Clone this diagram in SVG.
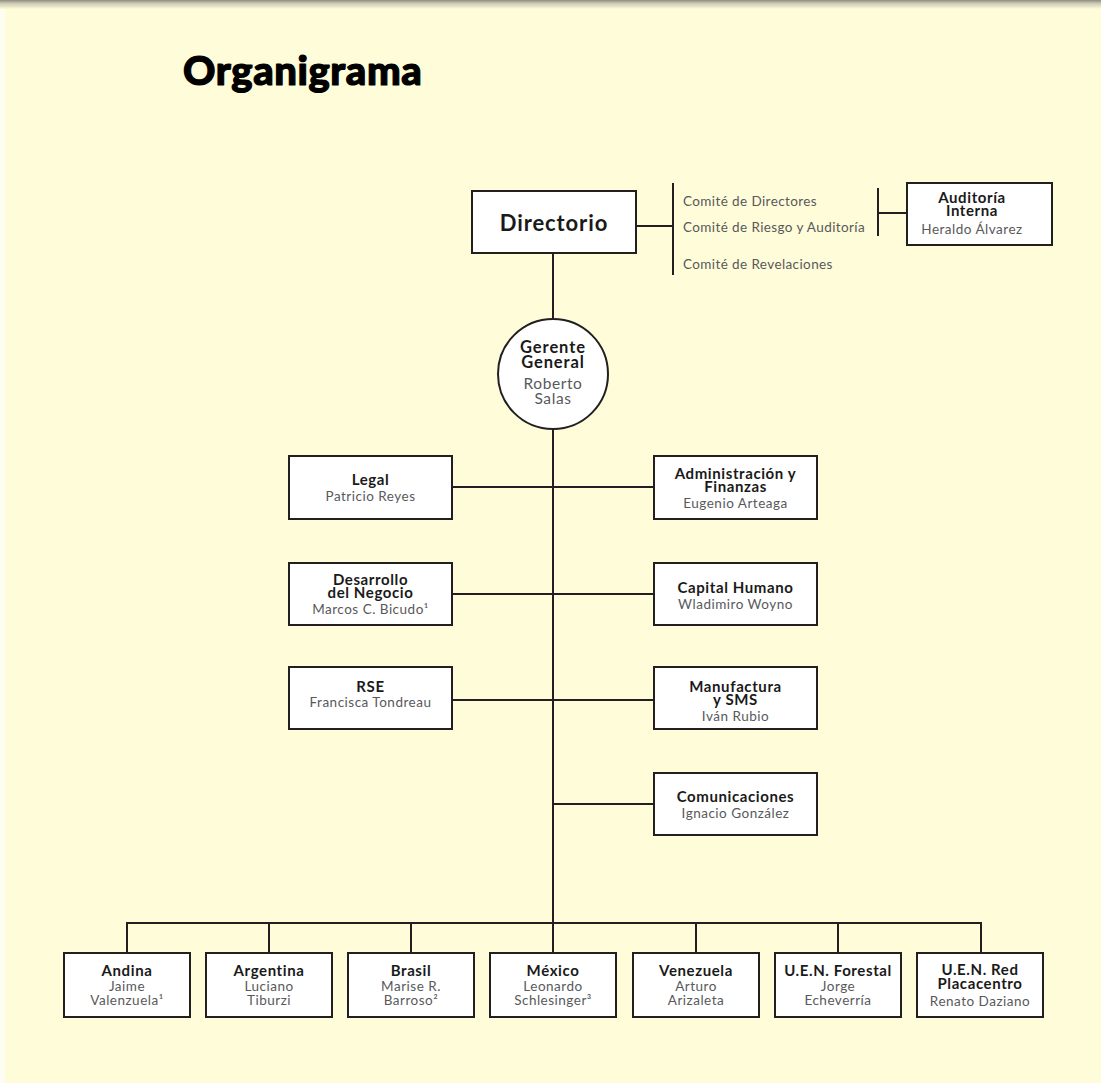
<svg xmlns="http://www.w3.org/2000/svg" width="1101" height="1083" viewBox="0 0 1101 1083">
  <defs>
    <linearGradient id="topShade" x1="0" y1="0" x2="0" y2="1">
      <stop offset="0" stop-color="#8c8b82"/>
      <stop offset="0.35" stop-color="#c9c7b0"/>
      <stop offset="1" stop-color="#fffcd9"/>
    </linearGradient>
    <style>
      .box { fill: #ffffff; stroke: #231f20; stroke-width: 2; }
      .wire { stroke: #231f20; stroke-width: 2; fill: none; }
      .t { font-family: Lato, "Liberation Sans", sans-serif; font-weight: 700; fill: #1a1a1a; text-anchor: middle; }
      .n { font-family: Lato, "Liberation Sans", sans-serif; font-weight: 400; fill: #58595b; text-anchor: middle; }
      .c { font-family: Lato, "Liberation Sans", sans-serif; font-weight: 400; fill: #58595b; font-size: 13.5px; letter-spacing: 0.4px; }
      .mid .t, .bot .t, .aud .t { font-size: 15px; letter-spacing: 0.6px; }
      .mid .n, .bot .n, .aud .n { font-size: 13.5px; letter-spacing: 0.5px; }
    </style>
  </defs>

  <!-- page -->
  <rect x="0" y="0" width="1101" height="1083" fill="#fdfdf4"/>
  <rect x="5" y="0" width="1096" height="1083" fill="#fffcd9"/>
  <rect x="0" y="0" width="1101" height="9" fill="url(#topShade)"/>

  <text x="183" y="85" font-family="Lato, 'Liberation Sans', sans-serif" font-weight="900" font-size="40" letter-spacing="0.6" fill="#000" stroke="#000" stroke-width="1.2" stroke-linejoin="round">Organigrama</text>

  <!-- connectors -->
  <g id="connectors" class="wire">
    <line x1="636" y1="226" x2="673" y2="226"/>
    <line x1="673" y1="183" x2="673" y2="275"/>
    <line x1="878" y1="188" x2="878" y2="236"/>
    <line x1="878" y1="213" x2="907" y2="213"/>
    <line x1="553" y1="253" x2="553" y2="319"/>
    <line x1="553" y1="429" x2="553" y2="923"/>
    <line x1="452" y1="487" x2="654" y2="487"/>
    <line x1="452" y1="594" x2="654" y2="594"/>
    <line x1="452" y1="700" x2="654" y2="700"/>
    <line x1="553" y1="804" x2="654" y2="804"/>
    <polyline points="127,953 127,923 981,923 981,953"/>
    <line x1="269" y1="923" x2="269" y2="953"/>
    <line x1="411" y1="923" x2="411" y2="953"/>
    <line x1="553" y1="923" x2="553" y2="953"/>
    <line x1="696" y1="923" x2="696" y2="953"/>
    <line x1="838" y1="923" x2="838" y2="953"/>
  </g>

  <!-- board and committees -->
  <g id="directorio">
    <rect class="box" x="472" y="191" width="164" height="62"/>
    <text class="t" x="554" y="231" font-size="22" letter-spacing="0.9">Directorio</text>
  </g>
  <g id="comites">
    <text class="c" x="683" y="206">Comité de Directores</text>
    <text class="c" x="683" y="232">Comité de Riesgo y Auditoría</text>
    <text class="c" x="683" y="269">Comité de Revelaciones</text>
  </g>
  <g id="auditoria" class="aud">
    <rect class="box" x="907" y="183" width="145" height="62"/>
    <text class="t" x="972" y="203">Auditoría</text>
    <text class="t" x="972" y="216">Interna</text>
    <text class="n" x="972" y="234">Heraldo Álvarez</text>
  </g>

  <!-- general manager -->
  <g id="gerente">
    <circle cx="553" cy="374" r="55" fill="#ffffff" stroke="#231f20" stroke-width="2"/>
    <text class="t" x="553" y="353" font-size="16.5" letter-spacing="0.9">Gerente</text>
    <text class="t" x="553" y="368" font-size="16.5" letter-spacing="0.9">General</text>
    <text class="n" x="553" y="389" font-size="15.5" letter-spacing="0.6">Roberto</text>
    <text class="n" x="553" y="404" font-size="15.5" letter-spacing="0.6">Salas</text>
  </g>

  <!-- corporate areas -->
  <g class="mid">
    <g id="legal">
      <rect class="box" x="289" y="456" width="163" height="63"/>
      <text class="t" x="370.5" y="485">Legal</text>
      <text class="n" x="370.5" y="501">Patricio Reyes</text>
    </g>
    <g id="administracion">
      <rect class="box" x="654" y="456" width="163" height="63"/>
      <text class="t" x="735.5" y="479">Administración y</text>
      <text class="t" x="735.5" y="492">Finanzas</text>
      <text class="n" x="735.5" y="508">Eugenio Arteaga</text>
    </g>
    <g id="desarrollo">
      <rect class="box" x="289" y="563" width="163" height="62"/>
      <text class="t" x="370.5" y="585">Desarrollo</text>
      <text class="t" x="370.5" y="598">del Negocio</text>
      <text class="n" x="370.5" y="614">Marcos C. Bicudo¹</text>
    </g>
    <g id="capital-humano">
      <rect class="box" x="654" y="563" width="163" height="62"/>
      <text class="t" x="735.5" y="593">Capital Humano</text>
      <text class="n" x="735.5" y="609">Wladimiro Woyno</text>
    </g>
    <g id="rse">
      <rect class="box" x="289" y="667" width="163" height="62"/>
      <text class="t" x="370.5" y="692">RSE</text>
      <text class="n" x="370.5" y="707">Francisca Tondreau</text>
    </g>
    <g id="manufactura">
      <rect class="box" x="654" y="667" width="163" height="62"/>
      <text class="t" x="735.5" y="692">Manufactura</text>
      <text class="t" x="735.5" y="705">y SMS</text>
      <text class="n" x="735.5" y="721">Iván Rubio</text>
    </g>
    <g id="comunicaciones">
      <rect class="box" x="654" y="773" width="163" height="62"/>
      <text class="t" x="735.5" y="802">Comunicaciones</text>
      <text class="n" x="735.5" y="818">Ignacio González</text>
    </g>
  </g>

  <!-- business units -->
  <g class="bot">
    <g id="andina">
      <rect class="box" x="64" y="953" width="126" height="64"/>
      <text class="t" x="127" y="976">Andina</text>
      <text class="n" x="127" y="991">Jaime</text>
      <text class="n" x="127" y="1005">Valenzuela¹</text>
    </g>
    <g id="argentina">
      <rect class="box" x="206" y="953" width="126" height="64"/>
      <text class="t" x="269" y="976">Argentina</text>
      <text class="n" x="269" y="991">Luciano</text>
      <text class="n" x="269" y="1005">Tiburzi</text>
    </g>
    <g id="brasil">
      <rect class="box" x="348" y="953" width="126" height="64"/>
      <text class="t" x="411" y="976">Brasil</text>
      <text class="n" x="411" y="991">Marise R.</text>
      <text class="n" x="411" y="1005">Barroso²</text>
    </g>
    <g id="mexico">
      <rect class="box" x="490" y="953" width="126" height="64"/>
      <text class="t" x="553" y="976">México</text>
      <text class="n" x="553" y="991">Leonardo</text>
      <text class="n" x="553" y="1005">Schlesinger³</text>
    </g>
    <g id="venezuela">
      <rect class="box" x="633" y="953" width="126" height="64"/>
      <text class="t" x="696" y="976">Venezuela</text>
      <text class="n" x="696" y="991">Arturo</text>
      <text class="n" x="696" y="1005">Arizaleta</text>
    </g>
    <g id="forestal">
      <rect class="box" x="775" y="953" width="126" height="64"/>
      <text class="t" x="838" y="976">U.E.N. Forestal</text>
      <text class="n" x="838" y="991">Jorge</text>
      <text class="n" x="838" y="1005">Echeverría</text>
    </g>
    <g id="placacentro">
      <rect class="box" x="917" y="953" width="126" height="64"/>
      <text class="t" x="980" y="975">U.E.N. Red</text>
      <text class="t" x="980" y="989">Placacentro</text>
      <text class="n" x="980" y="1006">Renato Daziano</text>
    </g>
  </g>
</svg>
